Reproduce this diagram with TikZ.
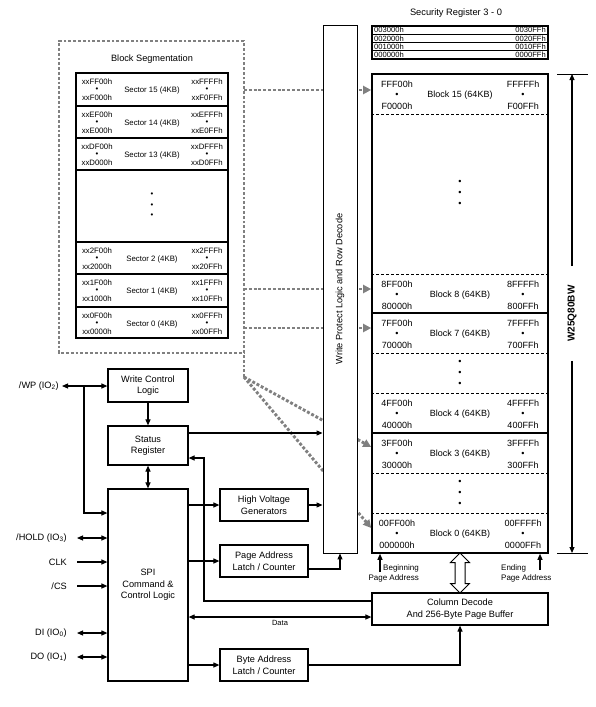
\documentclass[tikz,border=0pt]{standalone}
\usepackage{fontspec}
\setmainfont{Liberation Sans}
\usetikzlibrary{arrows.meta,shapes.arrows,calc}
\definecolor{dotgray}{HTML}{808080}
\begin{document}
\begin{tikzpicture}[x=1pt,y=-1pt,
  font=\fontsize{9.2}{11.5}\selectfont,
  box/.style={draw,line width=1.2pt,fill=white,align=center,inner sep=0pt},
  arr/.style={line width=1.1pt,-{Triangle[length=6pt,width=5pt]}},
  darr/.style={line width=1.1pt,{Triangle[length=6pt,width=5pt]}-{Triangle[length=6pt,width=5pt]}},
  gdot/.style={draw=dotgray,line width=2.9pt,dash pattern=on 2.9pt off 1.9pt},
  garr/.style={gdot,-{Triangle[length=8pt,width=8pt,fill=dotgray]}},
  addr/.style={font=\fontsize{9}{10}\selectfont,inner sep=0pt},
  saddr/.style={font=\fontsize{7.8}{9}\selectfont,inner sep=0pt},
  secadr/.style={font=\fontsize{7.6}{8}\selectfont,inner sep=0pt},
  lbl/.style={inner sep=0pt},
  sep/.style={line width=1.6pt},
  dsep/.style={line width=1pt,dash pattern=on 3pt off 2pt},
  smalltxt/.style={font=\fontsize{8}{10}\selectfont,inner sep=0pt}]
\fill[white] (0,0) rectangle (595,707);
\useasboundingbox (0,0) rectangle (595,707);

% ---------- Security register ----------
\node[font=\fontsize{9.3}{11}\selectfont] (srt) at (456,13) {Security Register 3 - 0};
\node[draw,line width=1.3pt,minimum width=176pt,minimum height=33pt,inner sep=0pt] (sec) at (460,42.5) {};
\foreach \yy in {34.25,42.5,50.75}{\draw[line width=0.9pt] (sec.west |- 0,\yy) -- (sec.east |- 0,\yy);}
\foreach \yy/\la/\ra [count=\k] in {30.1/003000h/0030FFh,38.4/002000h/0020FFh,46.6/001000h/0010FFh,54.9/000000h/0000FFh}{
  \node[secadr,anchor=west] (secl\k) at (374,\yy) {\la};
  \node[secadr,anchor=east] (secr\k) at (546,\yy) {\ra};
}

% ---------- Block segmentation ----------
\coordinate (dbr) at (244,377);
\draw[gdot] (dbr) -- (244,41) -- (59,41) -- (59,353) -- (244,353);
\node (bst) at (152,59) {Block Segmentation};
\node[draw,line width=1.6pt,minimum width=152pt,minimum height=265pt,inner sep=0pt,fill=white] (secbox) at (152,205.5) {};
\foreach \yy in {106,138,170,242,274,307}{\draw[sep] (secbox.west |- 0,\yy) -- (secbox.east |- 0,\yy);}
\foreach \t/\n/\la/\lb/\ra/\rb in {73/15/xxFF00h/xxF000h/xxFFFFh/xxF0FFh,
    106/14/xxEF00h/xxE000h/xxEFFFh/xxE0FFh,
    138/13/xxDF00h/xxD000h/xxDFFFh/xxD0FFh,
    242/2/xx2F00h/xx2000h/xx2FFFh/xx20FFh,
    274/1/xx1F00h/xx1000h/xx1FFFh/xx10FFh,
    307/0/xx0F00h/xx0000h/xx0FFFh/xx00FFh}{
  \node[saddr] (s\n-la) at (97,{\t+8.5}) {\la};
  \node[saddr] (s\n-ld) at (97,{\t+17}) {•};
  \node[saddr] (s\n-lb) at (97,{\t+25}) {\lb};
  \node[saddr] (s\n-ra) at (207,{\t+8.5}) {\ra};
  \node[saddr] (s\n-rd) at (207,{\t+17}) {•};
  \node[saddr] (s\n-rb) at (207,{\t+25}) {\rb};
  \node[saddr] (s\n-c) at (152,{\t+17}) {Sector \n\ (4KB)};
}
\foreach \yy [count=\k] in {195,206,216}{\node[saddr] (sdot\k) at (152,\yy) {•};}

% ---------- Memory array ----------
\node[draw,line width=1.6pt,minimum width=176pt,minimum height=479pt,inner sep=0pt] (mem) at (460,313.5) {};
\foreach \yy in {114,274,353,393,473,513}{\draw[dsep] (mem.west |- 0,\yy) -- (mem.east |- 0,\yy);}
\foreach \yy in {313,433}{\draw[sep] (mem.west |- 0,\yy) -- (mem.east |- 0,\yy);}
\foreach \t/\n/\la/\lb/\ra/\rb in {74/15/FFF00h/F0000h/FFFFFh/F00FFh,
    274/8/8FF00h/80000h/8FFFFh/800FFh,
    313/7/7FF00h/70000h/7FFFFh/700FFh,
    393/4/4FF00h/40000h/4FFFFh/400FFh,
    433/3/3FF00h/30000h/3FFFFh/300FFh,
    513/0/00FF00h/000000h/00FFFFh/0000FFh}{
  \node[addr] (b\n-la) at (397,{\t+10}) {\la};
  \node[addr] (b\n-ld) at (397,{\t+21}) {•};
  \node[addr] (b\n-lb) at (397,{\t+32}) {\lb};
  \node[addr] (b\n-ra) at (523,{\t+10}) {\ra};
  \node[addr] (b\n-rd) at (523,{\t+21}) {•};
  \node[addr] (b\n-rb) at (523,{\t+32}) {\rb};
  \node[addr] (b\n-c) at (460,{\t+21}) {Block \n\ (64KB)};
}
\foreach \yy [count=\k] in {182,193,204,362,373,384,482,493,504}{\node[addr] (mdot\k) at (460,\yy) {•};}

% ---------- dotted mapping arrows ----------
\coordinate (d15) at (244,90);
\coordinate (d1) at (244,289);
\coordinate (d0) at (244,328);
\draw[garr] (d15) -- (mem.west |- d15);
\draw[garr] (d1) -- (mem.west |- d1);
\draw[garr] (d0) -- (mem.west |- d0);
\draw[garr] (dbr) -- (mem.west |- 0,447);
\draw[garr] (dbr) -- (mem.west |- 0,528);

% ---------- Write protect column ----------
\node[draw,line width=0.9pt,fill=white,rotate=90,minimum width=528pt,minimum height=34pt,inner sep=0pt] (wpl) at (340,289) {Write Protect Logic and Row Decode};

% ---------- W25Q80BW dimension ----------
\coordinate (dimT) at (572,74);
\coordinate (dimB) at (572,553);
\coordinate (tkTa) at (557,74); \coordinate (tkTb) at (588,74);
\coordinate (tkBa) at (557,553); \coordinate (tkBb) at (588,553);
\draw[line width=1pt] (tkTa) -- (tkTb);
\draw[line width=1pt] (tkBa) -- (tkBb);
\node[font=\bfseries\fontsize{10}{12}\selectfont,rotate=90,inner xsep=19pt,inner ysep=2pt] (w25) at (572,313.5) {W25Q80BW};
\draw[arr] (w25) -- (dimT);
\draw[arr] (w25) -- (dimB);

% ---------- page address labels ----------
\node[smalltxt,align=right,anchor=east] (bpa) at (419,573) {Beginning\\Page Address};
\node[smalltxt,align=left,anchor=west] (epa) at (501,573) {Ending\\Page Address};
\coordinate (bpaS) at (380,572);
\coordinate (epaS) at (540,570);
\draw[arr] (bpaS) -- (mem.south -| bpaS);
\draw[arr] (epaS) -- (mem.south -| epaS);

% ---------- left control blocks ----------
\node[box,minimum width=80pt,minimum height=33pt] (wcl) at (148,385.5) {Write Control\\Logic};
\node[box,minimum width=80pt,minimum height=39pt] (sr) at (148,445.5) {Status\\Register};
\node[box,minimum width=80pt,minimum height=192pt] (spi) at (148,585) {SPI\\Command \&\\Control Logic};
\node[box,minimum width=88pt,minimum height=32pt] (hvg) at (264,505) {High Voltage\\Generators};
\node[box,minimum width=88pt,minimum height=32pt] (pal) at (264,561) {Page Address\\Latch / Counter};
\node[box,minimum width=88pt,minimum height=32pt] (bal) at (264,665) {Byte Address\\Latch / Counter};
\node[box,minimum width=176pt,minimum height=32pt] (cd) at (460,609) {Column Decode\\And 256-Byte Page Buffer};

% hollow bus arrow
\node[double arrow,draw,line width=1pt,fill=white,rotate=90,minimum height=40pt,inner xsep=0pt,inner ysep=4.5pt,double arrow head extend=4.5pt] (bus) at (460,573) {};

% pins
\node[lbl,anchor=east] (wp) at (59,386) {/WP (IO\textsubscript{2})};
\node[lbl,anchor=east] (hold) at (67,538) {/HOLD (IO\textsubscript{3})};
\node[lbl,anchor=east] (clk) at (67,562) {CLK};
\node[lbl,anchor=east] (cs) at (67,586) {/CS};
\node[lbl,anchor=east] (di) at (67,633) {DI (IO\textsubscript{0})};
\node[lbl,anchor=east] (do) at (67,657) {DO (IO\textsubscript{1})};

\coordinate (wpS) at (62,386);
\coordinate (wpJ) at (84,386);
\coordinate (holdS) at (77,538);
\coordinate (clkS) at (77,562);
\coordinate (csS) at (77,586);
\coordinate (diS) at (77,633);
\coordinate (doS) at (77,657);
\draw[darr] (wpS) -- (wcl.west |- wpS);
\draw[arr] (wpJ) |- (spi.west |- 0,513);
\draw[darr] (holdS) -- (spi.west |- holdS);
\draw[arr] (clkS) -- (spi.west |- clkS);
\draw[arr] (csS) -- (spi.west |- csS);
\draw[darr] (diS) -- (spi.west |- diS);
\draw[darr] (doS) -- (spi.west |- doS);

% internal connectors
\draw[arr] (wcl) -- (sr);
\draw[darr] (sr) -- (spi);
\draw[arr] (sr.east |- 0,433) -- (wpl.north |- 0,433);
\draw[arr] (spi.east |- hvg.west) -- (hvg.west);
\draw[arr] (hvg.east) -- (wpl.north |- hvg.east);
\draw[arr] (spi.east |- pal.west) -- (pal.west);
\draw[arr] (pal.east |- 0,569) -| (wpl.west);
\draw[arr] (spi.east |- bal.west) -- (bal.west);
\draw[arr] (bal.east) -| (cd.south);
\coordinate (fbk) at (204,458);
\draw[arr] (cd.west |- 0,601) -| (fbk) -- (sr.east |- fbk);
\draw[darr] (cd.west |- 0,617) -- (spi.east |- 0,617) node[midway,below=3pt,font=\fontsize{7.5}{9}\selectfont,inner sep=0pt] (datal) {Data};
\end{tikzpicture}
\end{document}
